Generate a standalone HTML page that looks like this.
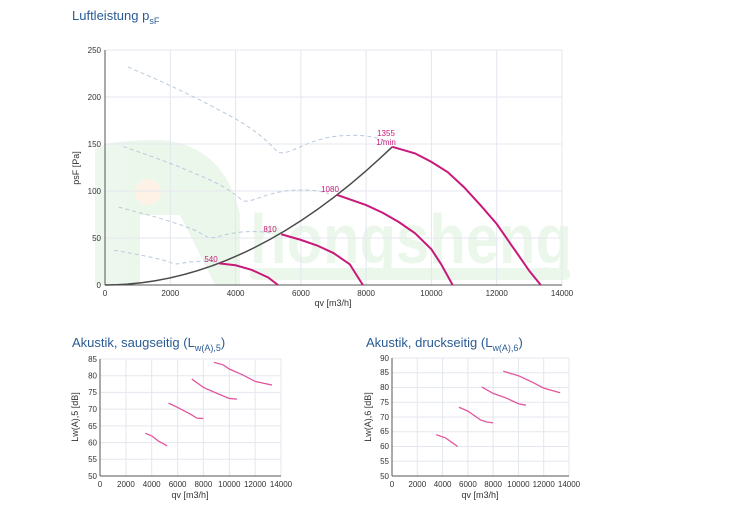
<!DOCTYPE html>
<html><head><meta charset="utf-8"><style>
html,body{margin:0;padding:0;background:#fff;}
svg{display:block;font-family:"Liberation Sans",Arial,sans-serif;}
</style></head><body>
<svg width="750" height="509" viewBox="0 0 750 509" xmlns="http://www.w3.org/2000/svg">
<!-- titles -->
<text x="72" y="20" font-size="13" fill="#2a5b94">Luftleistung p<tspan font-size="9" dy="4">sF</tspan></text>
<text x="72" y="347" font-size="13" fill="#2a5b94">Akustik, saugseitig (L<tspan font-size="9" dy="4">w(A),5</tspan><tspan dy="-4">)</tspan></text>
<text x="366" y="347" font-size="13" fill="#2a5b94">Akustik, druckseitig (L<tspan font-size="9" dy="4">w(A),6</tspan><tspan dy="-4">)</tspan></text>

<!-- watermark -->
<g opacity="0.45">
<path d="M95,285 L95,150 Q100,140 160,140 Q225,145 240,215 L240,285 L215,285 L180,215 L140,215 L140,285 Z" fill="#d6eed6"/>
<circle cx="148" cy="192" r="13" fill="#fde3cc"/>
<rect x="250" y="268" width="320" height="12" rx="5" fill="#d6eed6"/>
<text x="250" y="263" font-size="70" font-weight="bold" fill="#d6eed6" textLength="322" lengthAdjust="spacingAndGlyphs">hongsheng</text>
</g>

<!-- main grid -->
<g stroke="#e3e7ee" stroke-width="1">
<line x1="170.3" y1="50" x2="170.3" y2="285"/><line x1="235.6" y1="50" x2="235.6" y2="285"/>
<line x1="300.9" y1="50" x2="300.9" y2="285"/><line x1="366.1" y1="50" x2="366.1" y2="285"/>
<line x1="431.4" y1="50" x2="431.4" y2="285"/><line x1="496.7" y1="50" x2="496.7" y2="285"/>
<line x1="562" y1="50" x2="562" y2="285"/>
<line x1="105" y1="50" x2="562" y2="50"/><line x1="105" y1="97" x2="562" y2="97"/>
<line x1="105" y1="144" x2="562" y2="144"/><line x1="105" y1="191" x2="562" y2="191"/>
<line x1="105" y1="238" x2="562" y2="238"/>
</g>
<g stroke="#555" stroke-width="1">
<line x1="105" y1="50" x2="105" y2="285"/><line x1="105" y1="285" x2="562" y2="285"/>
</g>
<g font-size="8" fill="#333" text-anchor="end">
<text x="101" y="53">250</text><text x="101" y="100">200</text><text x="101" y="147">150</text>
<text x="101" y="194">100</text><text x="101" y="241">50</text><text x="101" y="288">0</text>
</g>
<g font-size="8" fill="#333" text-anchor="middle">
<text x="105" y="296">0</text><text x="170.3" y="296">2000</text><text x="235.6" y="296">4000</text>
<text x="300.9" y="296">6000</text><text x="366.1" y="296">8000</text><text x="431.4" y="296">10000</text>
<text x="496.7" y="296">12000</text><text x="562" y="296">14000</text>
<text x="333" y="306" font-size="9">qv [m3/h]</text>
</g>
<text transform="translate(79,168) rotate(-90)" font-size="9" fill="#333" text-anchor="middle">psF [Pa]</text>

<g transform="translate(105,285) scale(0.03264,-0.94)" fill="none">
<g stroke="#b9c8dc" stroke-width="1" stroke-dasharray="4,3">
<path vector-effect="non-scaling-stroke" d="M700,232 C1500,220 2500,205 3500,186 C4300,172 4800,160 5300,141 C5700,138 6000,152 7000,158 C7800,161 8300,158 8600,153"/>
<path vector-effect="non-scaling-stroke" d="M558,147.3 C1196,139.7 1993,130.2 2790,118.1 C3427,109.2 3826,101.6 4224,89.5 C4543,87.6 4782,96.5 5579,100.3 C6217,102.2 6615,100.3 6854,97.2"/>
<path vector-effect="non-scaling-stroke" d="M419,82.8 C897,78.5 1495,73.2 2093,66.4 C2571,61.4 2870,57.1 3169,50.3 C3409,49.3 3588,54.3 4186,56.4 C4664,57.5 4963,56.4 5143,54.6"/>
<path vector-effect="non-scaling-stroke" d="M279,36.9 C599,35 998,32.6 1397,29.6 C1716,27.3 1915,25.4 2115,22.4 C2274,21.9 2394,24.2 2793,25.1 C3112,25.6 3312,25.1 3431,24.3"/>
</g>
<path d="M0,0 Q4400,0 8800,147" stroke="#4a4a4a" stroke-width="1.5" vector-effect="non-scaling-stroke"/>
<g stroke="#c8197a" stroke-width="2">
<path vector-effect="non-scaling-stroke" d="M8800,147 L9500,140 L10000,131 L10500,120 L11000,104 L11500,85 L12000,65 L12500,40 L13000,15 L13350,0"/>
<path vector-effect="non-scaling-stroke" d="M7100,96 L8000,85 L8500,77 L9000,67 L9500,55 L10000,38 L10300,22 L10650,0"/>
<path vector-effect="non-scaling-stroke" d="M5400,54 L6000,48 L6500,42 L7000,34 L7500,22 L7900,0"/>
<path vector-effect="non-scaling-stroke" d="M3500,23 L4000,21 L4500,16 L5000,8 L5300,0"/>
</g>
</g>
<g font-size="8" fill="#c8197a" text-anchor="middle">
<text x="386" y="136">1355</text><text x="386" y="145">1/min</text>
<text x="330" y="192">1080</text><text x="270" y="232">810</text><text x="211" y="262">540</text>
</g>

<!-- small chart 1 -->
<g stroke="#e3e7ee" stroke-width="1">
<line x1="125.9" y1="359" x2="125.9" y2="476"/><line x1="151.7" y1="359" x2="151.7" y2="476"/>
<line x1="177.6" y1="359" x2="177.6" y2="476"/><line x1="203.4" y1="359" x2="203.4" y2="476"/>
<line x1="229.3" y1="359" x2="229.3" y2="476"/><line x1="255.1" y1="359" x2="255.1" y2="476"/>
<line x1="281" y1="359" x2="281" y2="476"/>
<line x1="100" y1="359" x2="281" y2="359"/><line x1="100" y1="375.7" x2="281" y2="375.7"/>
<line x1="100" y1="392.4" x2="281" y2="392.4"/><line x1="100" y1="409.1" x2="281" y2="409.1"/>
<line x1="100" y1="425.9" x2="281" y2="425.9"/><line x1="100" y1="442.6" x2="281" y2="442.6"/>
<line x1="100" y1="459.3" x2="281" y2="459.3"/>
</g>
<g stroke="#555"><line x1="100" y1="359" x2="100" y2="476"/><line x1="100" y1="476" x2="281" y2="476"/></g>
<g font-size="8" fill="#333" text-anchor="end">
<text x="97" y="362">85</text><text x="97" y="378.5">80</text><text x="97" y="395">75</text><text x="97" y="412">70</text>
<text x="97" y="429">65</text><text x="97" y="445.5">60</text><text x="97" y="462">55</text><text x="97" y="479">50</text>
</g>
<g font-size="8" fill="#333" text-anchor="middle">
<text x="100" y="487">0</text><text x="125.9" y="487">2000</text><text x="151.7" y="487">4000</text>
<text x="177.6" y="487">6000</text><text x="203.4" y="487">8000</text><text x="229.3" y="487">10000</text>
<text x="255.1" y="487">12000</text><text x="281" y="487">14000</text>
<text x="190" y="498" font-size="9">qv [m3/h]</text>
</g>
<text transform="translate(78,417) rotate(-90)" font-size="9" fill="#333" text-anchor="middle">Lw(A),5 [dB]</text>
<g transform="translate(100,476) scale(0.012929,-3.343) translate(0,-50)" fill="none" stroke="#e0579e" stroke-width="1.3">
<path vector-effect="non-scaling-stroke" d="M3500,62.8 L4000,62 L4500,60.5 L5200,59"/>
<path vector-effect="non-scaling-stroke" d="M5300,71.8 L6000,70.5 L7000,68.5 L7500,67.3 L8000,67.2"/>
<path vector-effect="non-scaling-stroke" d="M7100,79 L8000,76.5 L9000,74.8 L10000,73.2 L10600,73"/>
<path vector-effect="non-scaling-stroke" d="M8800,84 L9500,83.3 L10000,82 L11000,80.3 L12000,78.3 L13300,77.2"/>
</g>

<!-- small chart 2 -->
<g stroke="#e3e7ee" stroke-width="1">
<line x1="417.3" y1="358" x2="417.3" y2="476"/><line x1="442.6" y1="358" x2="442.6" y2="476"/>
<line x1="467.9" y1="358" x2="467.9" y2="476"/><line x1="493.1" y1="358" x2="493.1" y2="476"/>
<line x1="518.4" y1="358" x2="518.4" y2="476"/><line x1="543.7" y1="358" x2="543.7" y2="476"/>
<line x1="569" y1="358" x2="569" y2="476"/>
<line x1="392" y1="358" x2="569" y2="358"/><line x1="392" y1="372.8" x2="569" y2="372.8"/>
<line x1="392" y1="387.5" x2="569" y2="387.5"/><line x1="392" y1="402.3" x2="569" y2="402.3"/>
<line x1="392" y1="417" x2="569" y2="417"/><line x1="392" y1="431.8" x2="569" y2="431.8"/>
<line x1="392" y1="446.5" x2="569" y2="446.5"/><line x1="392" y1="461.3" x2="569" y2="461.3"/>
</g>
<g stroke="#555"><line x1="392" y1="358" x2="392" y2="476"/><line x1="392" y1="476" x2="569" y2="476"/></g>
<g font-size="8" fill="#333" text-anchor="end">
<text x="389" y="361">90</text><text x="389" y="375">85</text><text x="389" y="390">80</text><text x="389" y="405">75</text>
<text x="389" y="420">70</text><text x="389" y="434">65</text><text x="389" y="449">60</text><text x="389" y="464">55</text><text x="389" y="479">50</text>
</g>
<g font-size="8" fill="#333" text-anchor="middle">
<text x="392" y="487">0</text><text x="417.3" y="487">2000</text><text x="442.6" y="487">4000</text>
<text x="467.9" y="487">6000</text><text x="493.1" y="487">8000</text><text x="518.4" y="487">10000</text>
<text x="543.7" y="487">12000</text><text x="569" y="487">14000</text>
<text x="480" y="498" font-size="9">qv [m3/h]</text>
</g>
<text transform="translate(371,417) rotate(-90)" font-size="9" fill="#333" text-anchor="middle">Lw(A),6 [dB]</text>
<g transform="translate(392,476) scale(0.012643,-2.95) translate(0,-50)" fill="none" stroke="#e0579e" stroke-width="1.3">
<path vector-effect="non-scaling-stroke" d="M3500,64 L4200,63 L4700,61.5 L5200,60"/>
<path vector-effect="non-scaling-stroke" d="M5300,73.3 L6000,72 L7000,69 L7500,68.3 L8000,68"/>
<path vector-effect="non-scaling-stroke" d="M7100,80.2 L8000,78 L9000,76.5 L10000,74.5 L10600,74"/>
<path vector-effect="non-scaling-stroke" d="M8800,85.5 L10000,84 L11000,82 L12000,79.8 L13300,78.2"/>
</g>
</svg>
</body></html>
